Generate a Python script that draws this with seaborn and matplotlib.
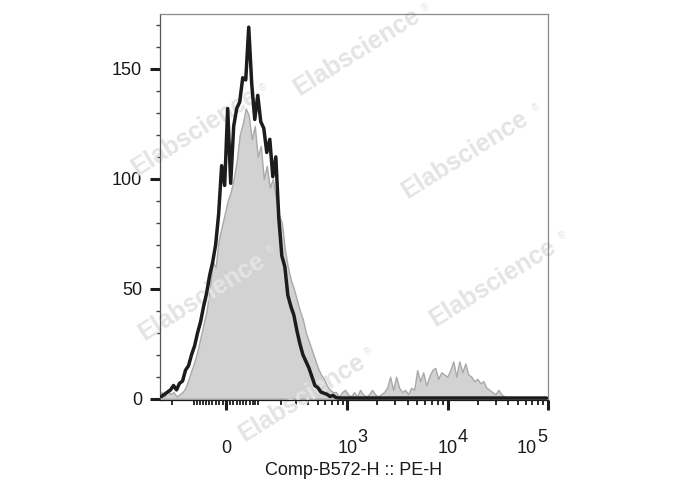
## Flow cytometry histogram: stained (black line) vs control (grey fill) on a biex axis

# Imports
import numpy as np
import pandas as pd
import matplotlib
matplotlib.use("Agg")
import matplotlib.pyplot as plt
import matplotlib.ticker as mticker
import matplotlib.transforms as mtransforms
import seaborn as sns

############################# Data ################################

# Counts per bin, 129 equal-width bins on the display (biex) axis
black_counts = [1, 2, 3, 4, 6, 4, 7, 8, 13, 15,
                20, 24, 30, 35, 42, 48, 56, 62, 70, 84,
                106, 97, 132, 98, 124, 132, 135, 146, 145, 169,
                143, 127, 138, 126, 123, 112, 118, 101, 110, 82,
                65, 60, 47, 42, 38, 31, 25, 20, 17, 14,
                10, 6, 5, 3, 2.5, 2, 1, 1.5, 0.5, 0.3,
                0.3, 0.3, 0.3, 0.3, 0.3, 0.3, 0.3, 0.3, 0.3, 0.3,
                0.3, 0.3, 0.3, 0.3, 0.3, 0.3, 0.3, 0.3, 0.3, 0.3,
                0.3, 0.3, 0.3, 0.3, 0.3, 0.3, 0.3, 0.3, 0.3, 0.3,
                0.3, 0.3, 0.3, 0.3, 0.3, 0.3, 0.3, 0.3, 0.3, 0.3,
                0.3, 0.3, 0.3, 0.3, 0.3, 0.3, 0.3, 0.3, 0.3, 0.3,
                0.3, 0.3, 0.3, 0.3, 0.3, 0.3, 0.3, 0.3, 0.3, 0.3,
                0.3, 0.3, 0.3, 0.3, 0.3, 0.3, 0.3, 0.3, 0.3]

grey_counts = [3, 1, 4, 2, 3, 1, 2, 3, 5, 9,
               13, 17, 22, 28, 34, 40, 50, 62, 60, 72,
               78, 84, 90, 94, 100, 108, 120, 125, 132, 129,
               118, 124, 110, 115, 100, 106, 96, 100, 91, 84,
               80, 68, 60, 54, 50, 45, 40, 36, 30, 26,
               22, 18, 14, 11, 9, 6, 4, 3, 3, 1,
               3, 4, 2, 1, 3, 1, 4, 2, 1, 2,
               4, 2, 1, 2, 3, 5, 10, 4, 10, 5,
               3, 4, 2, 5, 4, 13, 8, 12, 6, 10,
               13, 14, 9, 12, 11, 10, 13, 17, 10, 17,
               12, 16, 11, 10, 8, 9, 7, 8, 5, 4,
               3, 2, 4, 2, 1, 0, 0, 0, 0, 0,
               0, 0, 0, 0, 0, 0, 0, 0, 0]

# Axis settings
x_min, x_max = -270, 100000
x_major = [0, 1000, 10000, 100000]
x_major_base = ["0", "10", "10", "10"]
x_major_exp = ["", "3", "4", "5"]
y_major = [0, 50, 100, 150]
x_label = "Comp-B572-H :: PE-H"
watermark = "Elabscience"

############################# Biex scale ################################

W = 124.5  # width of the linear region around zero

def fwd(x):
    return np.arcsinh(np.asarray(x, dtype=float) / W)

def inv(y):
    return np.sinh(np.asarray(y, dtype=float)) * W

# Bins equally spaced on the display axis; seaborn bins in scale (transformed) units
n_bins = len(grey_counts)
lo, hi = float(fwd(x_min)), float(fwd(x_max))
step = (hi - lo) / n_bins
centers = inv(lo + step * (np.arange(n_bins) + 0.5))

histdf = pd.DataFrame({"value": centers, "grey": grey_counts, "black": black_counts})

# Minor ticks like FlowJo: 10s near zero, then 100s, 1000s, 10000s
x_minor = ([-200, -100] + [-d for d in range(90, 0, -10)] + list(range(10, 100, 10))
           + list(range(100, 1000, 100)) + list(range(2000, 10000, 1000))
           + list(range(20000, 100000, 10000)))
y_minor = [v for v in range(10, 180, 10) if v % 50 != 0]

############################# Plot ################################

sns.set_theme(style="white")
plt.rcParams["font.family"] = ["Liberation Sans", "DejaVu Sans"]

fig = plt.figure(figsize=(6.88, 4.9), dpi=100)
ax = fig.add_axes([160 / 688, 90 / 490, 388 / 688, 386 / 490])
ax.set_xscale("function", functions=(fwd, inv))

# Control: grey filled histogram
sns.histplot(data=histdf, x="value", weights="grey", bins=n_bins, binrange=(lo, hi),
             element="poly", fill=True, facecolor="#d2d2d2", edgecolor="#a9a9a9",
             linewidth=1.0, alpha=1, ax=ax, zorder=1)

# Stained sample: black line
sns.histplot(data=histdf, x="value", weights="black", bins=n_bins, binrange=(lo, hi),
             element="poly", fill=False, color="#1c1c1c", linewidth=2.5, ax=ax, zorder=3)

ax.set_xlim(x_min, x_max)
ax.set_ylim(-0.6, 175)

# Ticks
ax.xaxis.set_major_locator(mticker.FixedLocator(x_major))
ax.xaxis.set_minor_locator(mticker.FixedLocator(x_minor))
ax.yaxis.set_major_locator(mticker.FixedLocator(y_major))
ax.yaxis.set_minor_locator(mticker.FixedLocator(y_minor))

ax.tick_params(axis="both", which="major", direction="out", length=7.2, width=2.2,
               color="#1c1c1c", labelsize=13, labelcolor="#1a1a1a")
ax.tick_params(axis="x", which="major", bottom=True, labelbottom=False)
ax.tick_params(axis="y", which="major", pad=5.8, left=True)
ax.tick_params(axis="x", which="minor", direction="out", length=3.8, width=1.3,
               color="#1c1c1c", bottom=True)
ax.tick_params(axis="y", which="minor", direction="out", length=3, width=1,
               color="#444444", left=True)

# X tick labels drawn as text so the exponent is full size like FlowJo
xtrans = ax.get_xaxis_transform()
label_y = -(453 - 400) / 386
for val, base, exp in zip(x_major, x_major_base, x_major_exp):
    dx = -21 if val == x_max else 0  # last label is pulled inside the frame
    off = mtransforms.ScaledTranslation(dx / 100, 0, fig.dpi_scale_trans)
    ax.text(val, label_y, base, transform=xtrans + off, fontsize=13, color="#1a1a1a",
            ha="center", va="baseline", clip_on=False)
    if exp:
        off_e = mtransforms.ScaledTranslation((dx + 10) / 100, 11 / 100, fig.dpi_scale_trans)
        ax.text(val, label_y, exp, transform=xtrans + off_e, fontsize=13, color="#1a1a1a",
                ha="left", va="baseline", clip_on=False)

# Axis titles
ax.set_ylabel("")
ax.set_xlabel(x_label, fontsize=13, color="#1a1a1a")
ax.xaxis.set_label_coords(0.5, -(470 - 400) / 386)
ax.xaxis.label.set_va("center")

# Frame
ax.spines["left"].set_color("#555555")
ax.spines["bottom"].set_color("#1c1c1c")
ax.spines["top"].set_color("#8a8a8a")
ax.spines["right"].set_color("#8a8a8a")
for side in ["left", "bottom", "top", "right"]:
    ax.spines[side].set_linewidth(0.9)

# Watermarks (centre of word, position of the registered mark), in pixels
marks = [((357, 52), (425, 8)),
         ((465, 155), (536, 108)),
         ((195, 132), (263, 88)),
         ((202, 297), (270, 250)),
         ((493, 283), (562, 236)),
         ((302, 398), (368, 352))]
for (cx, cy), (rx, ry) in marks:
    ax.text(cx / 688, 1 - cy / 490, watermark, transform=fig.transFigure,
            fontsize=18, fontweight="bold", color="#e4e4e4", rotation=32,
            rotation_mode="anchor", ha="center", va="center", zorder=2, clip_on=False)
    ax.text(rx / 688, 1 - ry / 490, "®", transform=fig.transFigure,
            fontsize=7, color="#e4e4e4", rotation=32, ha="center", va="center",
            zorder=2, clip_on=False)

fig.savefig("out.png", dpi=100)
plt.close(fig)
